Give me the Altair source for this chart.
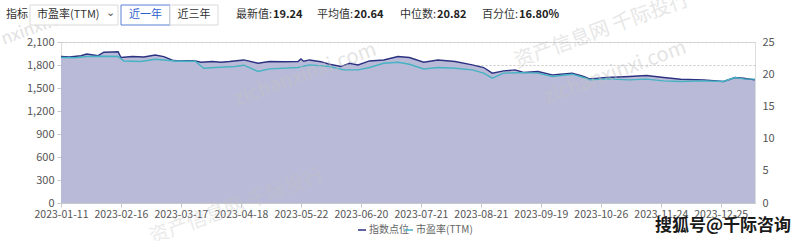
import altair as alt
import pandas as pd

# ---- data ----
tick_idx = [0, 21, 42, 63, 84, 105, 126, 147, 168, 189, 210, 231]
tick_labels = ["2023-01-11", "2023-02-16", "2023-03-17", "2023-04-18", "2023-05-22",
               "2023-06-20", "2023-07-21", "2023-08-21", "2023-09-19", "2023-10-26",
               "2023-11-24", "2023-12-25"]

idx_index = [0, 3, 7, 9, 13, 15, 18, 20, 21, 25, 29, 33, 36, 39, 41, 45, 47, 49, 53, 56,
             59, 64, 69, 73, 78, 83, 84, 85, 87, 91, 94, 98, 101, 104, 108, 113, 118, 122,
             127, 132, 138, 144, 148, 151, 155, 159, 162, 167, 172, 179, 183, 185, 191, 199,
             205, 211, 217, 225, 232, 236, 239, 243]
val_index = [1910, 1904, 1921, 1944, 1921, 1966, 1970, 1973, 1897, 1910, 1904, 1931, 1910,
             1862, 1853, 1856, 1853, 1836, 1845, 1836, 1845, 1866, 1823, 1845, 1843, 1845,
             1879, 1849, 1866, 1843, 1810, 1780, 1823, 1801, 1853, 1866, 1910, 1897, 1836,
             1866, 1845, 1801, 1767, 1693, 1723, 1736, 1702, 1715, 1671, 1693, 1650, 1619,
             1637, 1650, 1663, 1637, 1615, 1606, 1585, 1637, 1628, 1606]

idx_pe = [0, 5, 9, 15, 20, 22, 28, 33, 37, 41, 47, 50, 54, 61, 64, 69, 73, 83, 87, 94, 99,
          104, 108, 113, 118, 122, 127, 132, 138, 144, 148, 151, 155, 161, 167, 172, 179,
          183, 185, 191, 199, 205, 211, 217, 225, 232, 236, 239, 243]
val_pe = [22.59, 22.56, 22.74, 22.79, 22.74, 22.06, 21.97, 22.32, 22.17, 22.01, 22.01, 20.93,
          21.04, 21.19, 21.40, 20.42, 20.82, 21.04, 21.44, 21.19, 20.67, 20.67, 21.04, 21.70,
          21.86, 21.55, 20.82, 21.04, 20.93, 20.67, 20.16, 19.38, 20.16, 20.24, 20.16, 19.65,
          20.00, 19.49, 19.12, 19.28, 19.12, 19.23, 18.97, 18.87, 18.97, 18.87, 19.49, 19.28,
          19.24]

stat_names = ["最新值:", "平均值:", "中位数:", "百分位:"]
stat_values = ["19.24", "20.64", "20.82", "16.80%"]
series_names = ["指数点位", "市盈率(TTM)"]

df_index = pd.DataFrame({"i": idx_index, "v": val_index})
df_pe = pd.DataFrame({"i": idx_pe, "v": val_pe})

NAVY = "#2c3282"
TEAL = "#45b3c3"
FILL = "#b9bad7"
FONT = "Noto Sans CJK SC"
OX, OY = 61, 42  # plot origin in page pixels

label_arr = "[" + ",".join("'%s'" % s for s in tick_labels) + "]"
x_enc = alt.X("i:Q", scale=alt.Scale(domain=[0, 243], nice=False, zero=False),
              axis=alt.Axis(values=tick_idx, labelExpr=label_arr + "[round(datum.value/21)]",
                            title=None, grid=False, domainColor="#c8c8c8", tickColor="#c8c8c8",
                            tickSize=4, labelColor="#555", labelFontSize=10.5, labelPadding=2,
                            labelFont=FONT, labelFlush=False, labelOverlap=False))

area = alt.Chart(df_index).mark_area(color=FILL, opacity=1).encode(
    x=x_enc,
    y=alt.Y("v:Q", scale=alt.Scale(domain=[0, 2100], nice=False),
            axis=alt.Axis(values=[0, 300, 600, 900, 1200, 1500, 1800, 2100], format=",.0f",
                          title=None, grid=True, gridDash=[2, 2], gridColor="#c9c9c9",
                          domain=False, ticks=True, tickSize=4, tickColor="#c8c8c8",
                          labelColor="#555", labelFontSize=11, labelFont=FONT, labelPadding=3)))

line_index = alt.Chart(df_index).mark_line(color=NAVY, strokeWidth=1.4).encode(
    x=x_enc,
    y=alt.Y("v:Q", scale=alt.Scale(domain=[0, 2100], nice=False), axis=None))

line_pe = alt.Chart(df_pe).mark_line(color=TEAL, strokeWidth=1.4).encode(
    x=x_enc,
    y=alt.Y("v:Q", scale=alt.Scale(domain=[0, 25], nice=False),
            axis=alt.Axis(orient="right", values=[0, 5, 10, 15, 20, 25], title=None, grid=False,
                          domain=False, ticks=False, labelColor="#555", labelFontSize=11,
                          labelFont=FONT, labelPadding=7)))

one = alt.Data(values=[{}])


def txt(px, py, s, size=12, color="#333", align="left", weight="normal", angle=0, opacity=1.0):
    kw = {}
    if angle:
        kw["angle"] = angle
    return alt.Chart(one).mark_text(text=s, align=align, baseline="middle", fontSize=size,
                                    color=color, font=FONT, fontWeight=weight,
                                    opacity=opacity, **kw).encode(
        x=alt.value(px - OX), y=alt.value(py - OY))


def box(x1, y1, x2, y2, stroke):
    return alt.Chart(one).mark_rect(fill="white", stroke=stroke, strokeWidth=1).encode(
        x=alt.value(x1 - OX), x2=alt.value(x2 - OX), y=alt.value(y1 - OY), y2=alt.value(y2 - OY))


def dash(x1, x2, py, color):
    return alt.Chart(one).mark_rule(color=color, strokeWidth=1.5).encode(
        x=alt.value(x1 - OX), x2=alt.value(x2 - OX), y=alt.value(py - OY))


annos = [
    # faint watermarks
    txt(2, 40, "nxinxi.com", size=17, color="#c4c4c4", angle=340, opacity=0.5),
    txt(235, 100, "zichanxinxi.com", size=20, color="#c4c4c4", angle=340, opacity=0.45),
    txt(515, 62, "资产信息网  千际投行", size=20, color="#c4c4c4", angle=340, opacity=0.4),
    txt(545, 98, "zichanxinxi.com", size=20, color="#c4c4c4", angle=340, opacity=0.45),
    txt(150, 238, "资产信息网  千际投行", size=20, color="#c4c4c4", angle=340, opacity=0.35),
    # header controls
    txt(6, 15, "指标", size=11, color="#333"),
    box(30, 5, 118, 25, "#d9d9d9"),
    txt(37, 15, "市盈率(TTM)", size=11, color="#333"),
    txt(106, 13, "⌄", size=11, color="#555"),
    box(121, 5, 170, 25, "#5a80d8"),
    txt(145.5, 15, "近一年", size=11, color="#2f5fcf", align="center"),
    box(170, 5, 218, 25, "#d9d9d9"),
    txt(194, 15, "近三年", size=11, color="#333", align="center"),
    txt(236, 15, stat_names[0], size=11, color="#333"),
    txt(273, 15, stat_values[0], size=11, color="#222", weight="bold"),
    txt(317, 15, stat_names[1], size=11, color="#333"),
    txt(354, 15, stat_values[1], size=11, color="#222", weight="bold"),
    txt(400, 15, stat_names[2], size=11, color="#333"),
    txt(437, 15, stat_values[2], size=11, color="#222", weight="bold"),
    txt(482, 15, stat_names[3], size=11, color="#333"),
    txt(519, 15, stat_values[3], size=11, color="#222", weight="bold"),
    # legend
    dash(358, 366, 230, NAVY),
    txt(369, 230, series_names[0], size=10, color="#666"),
    dash(405, 413, 230, TEAL),
    txt(416, 230, series_names[1], size=10, color="#666"),
    # sohu mark
    txt(655, 226, "搜狐号@千际咨询", size=17, color="#1a1a1a", weight="bold"),
]

chart = alt.layer(area, line_index, line_pe, *annos).resolve_scale(y="independent").properties(
    width=694, height=161,
    autosize=alt.AutoSizeParams(type="none"),
    padding={"left": OX, "top": OY, "right": 800 - OX - 694, "bottom": 241 - OY - 161},
).configure_view(stroke=None).configure(background="white")

chart.save("out.html", embed_options={"renderer": "svg", "actions": False})
